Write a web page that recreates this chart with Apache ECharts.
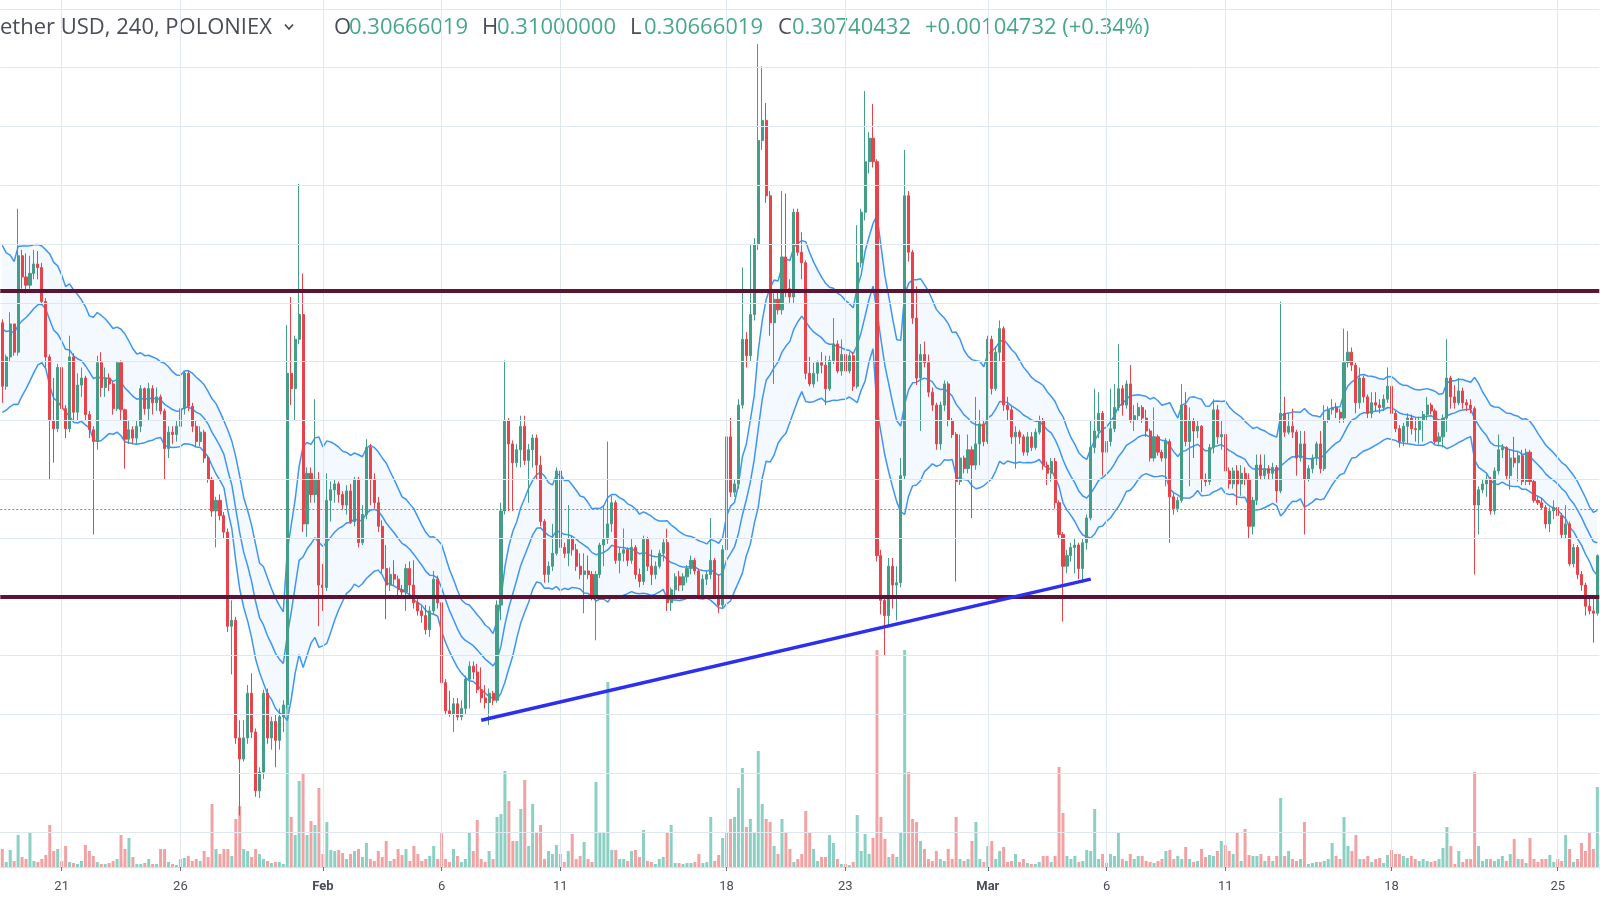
<!DOCTYPE html>
<html>
<head>
<meta charset="utf-8">
<script src="https://cdn.jsdelivr.net/npm/echarts@6/dist/echarts.min.js"></script>
<style>html,body{margin:0;padding:0;background:#fff}#c{width:1600px;height:900px}</style>
</head>
<body>
<div id="c"></div>
<script>
// ---- data (prices in 1/10000 USD), 4h candles starting 2019-01-18 12:00 UTC ----
const firstCandleUTC = [2019, 0, 18, 12];
const candleHours = 4;
const firstOpen = 3233;
const closes = [
3179,3204,3232,3208,3290,3272,3265,3275,3283,3280,3251,3204,3150,3143,3195,3160,3143,3204,3157,3180,3186,3155,3142,3132,3199,3178,3186,3181,3160,3199,3159,3134,3142,3135,
3145,3177,3160,3177,3165,3170,3158,3126,3140,3138,3145,3160,3190,3162,3145,3132,3140,3118,3100,3073,3082,3069,3055,2975,2980,2880,2862,2880,2918,2885,2835,2851,2918,2880,
2894,2878,2898,2908,3190,3177,3219,3240,3062,3105,3087,3100,3010,3008,3082,3091,3096,3087,3078,3090,3064,3100,3046,3070,3127,3100,3080,3060,3024,3010,3019,3015,3006,3004,
3024,3010,2995,2988,2984,2972,2988,3015,2995,2927,2903,2900,2909,2898,2905,2930,2941,2936,2921,2914,2910,2918,2912,2993,3073,3150,3130,3114,3125,3145,3116,3125,3135,3112,
3064,3019,3026,3037,3107,3042,3037,3049,3040,3026,3019,3022,3019,3000,3019,3044,3049,3062,3080,3031,3037,3040,3031,3042,3019,3013,3049,3026,3019,3026,3037,3046,2995,
3006,3017,3010,3017,3024,3031,3022,3001,3015,3019,3031,3001,2993,3040,3136,3089,3096,3163,3219,3205,3240,3300,3388,3405,3341,3233,3253,3244,3289,3262,3255,3327,3293,3284,
3190,3181,3190,3199,3197,3177,3201,3215,3192,3206,3192,3205,3179,3284,3327,3370,3390,3370,3035,2997,2984,3026,3010,3012,3103,3341,3293,3237,3186,3206,3199,3174,3163,3130,
3163,3181,3150,3138,3098,3118,3109,3125,3112,3130,3147,3132,3219,3177,3208,3228,3163,3159,3136,3140,3136,3123,3136,3127,3140,3150,3112,3105,3115,3080,3053,3026,3035,3042,
3044,3024,3046,3067,3127,3141,3156,3123,3132,3143,3161,3177,3163,3181,3150,3154,3161,3152,3141,3118,3136,3123,3118,3132,3085,3075,3082,3163,3132,3150,3141,3145,3100,3098,
3127,3159,3136,3138,3107,3096,3107,3096,3105,3100,3060,3082,3112,3103,3109,3105,3110,3090,3156,3140,3145,3140,3118,3130,3100,3109,3118,3130,3109,3150,3159,3161,3157,3152,
3199,3208,3197,3165,3186,3170,3156,3165,3163,3161,3168,3179,3156,3143,3132,3145,3152,3143,3142,3150,3155,3163,3158,3132,3136,3152,3186,3170,3165,3175,3165,3163,3160,
3078,3091,3096,3100,3073,3107,3125,3127,3103,3118,3114,3120,3098,3123,3098,3082,3080,3076,3062,3073,3076,3069,3053,3062,3028,3042,3019,3010,2992,2988,2986,3035
];
const highs = [
3236,3206,3242,3232,3330,3295,3292,3290,3295,3294,3284,3254,3206,3186,3198,3197,3163,3222,3207,3190,3195,3188,3158,3145,3205,3208,3195,3190,3183,3200,3201,3160,3150,3145,
3150,3180,3178,3182,3180,3178,3172,3160,3145,3145,3150,3165,3192,3192,3165,3150,3145,3142,3120,3102,3085,3087,3072,3058,2997,2983,2895,2895,2925,2935,2888,2855,2921,2922,
2898,2900,2905,2912,3231,3255,3222,3351,3275,3110,3110,3168,3106,3028,3105,3098,3100,3098,3090,3095,3096,3102,3102,3078,3134,3130,3105,3085,3065,3044,3025,3031,3018,3010,
3028,3030,3031,2998,2992,2993,2992,3022,3018,2998,2930,2920,2914,2914,2912,2933,2945,2945,2943,2940,2925,2922,2920,2997,3080,3201,3152,3133,3130,3154,3154,3130,3138,3138,
3120,3066,3030,3062,3110,3109,3046,3078,3052,3045,3037,3037,3035,3022,3022,3046,3078,3132,3086,3082,3042,3058,3042,3050,3044,3024,3052,3051,3040,3030,3040,3049,3058,
3008,3020,3022,3020,3027,3035,3033,3024,3019,3022,3067,3033,3019,3044,3138,3152,3100,3168,3280,3225,3300,3305,3470,3451,3420,3345,3258,3260,3345,3343,3270,3330,3330,3310,
3286,3204,3199,3201,3208,3205,3205,3237,3218,3219,3210,3208,3208,3316,3330,3430,3395,3419,3372,3040,3000,3033,3033,3026,3118,3380,3345,3295,3264,3215,3217,3206,3178,3165,
3166,3184,3183,3152,3140,3138,3120,3138,3128,3170,3159,3150,3222,3222,3213,3235,3230,3170,3162,3145,3142,3138,3140,3140,3143,3154,3152,3115,3118,3118,3082,3055,3040,3046,
3050,3046,3050,3070,3150,3177,3174,3158,3135,3177,3181,3215,3180,3184,3197,3163,3165,3163,3159,3143,3161,3138,3125,3135,3134,3088,3085,3181,3174,3161,3152,3150,3146,3105,
3130,3168,3163,3150,3145,3110,3110,3112,3112,3110,3105,3085,3121,3121,3121,3112,3114,3112,3251,3170,3156,3160,3142,3141,3141,3112,3121,3132,3141,3163,3162,3168,3165,3160,
3228,3226,3212,3199,3195,3188,3172,3174,3174,3168,3172,3195,3182,3158,3146,3148,3156,3155,3152,3153,3158,3170,3165,3160,3140,3155,3219,3188,3180,3186,3178,3168,3168,
3162,3094,3100,3104,3102,3110,3138,3130,3128,3125,3136,3123,3125,3126,3125,3100,3085,3084,3078,3076,3082,3078,3071,3078,3064,3045,3044,3022,3012,3001,3000,3036
];
const lows = [
3165,3176,3200,3205,3205,3262,3258,3262,3270,3270,3248,3195,3100,3114,3140,3155,3135,3140,3150,3150,3170,3150,3135,3053,3125,3170,3170,3175,3155,3158,3150,3109,3130,3130,
3130,3140,3155,3150,3155,3158,3155,3100,3118,3130,3132,3140,3155,3158,3140,3128,3128,3114,3097,3068,3042,3065,3050,2970,2934,2875,2814,2860,2875,2880,2830,2829,2845,2875,
2870,2855,2870,2885,2905,3163,3150,3215,3055,3051,3080,3080,2975,2988,3005,3064,3080,3080,3074,3070,3062,3060,3042,3044,3066,3078,3075,3055,3020,2981,3005,3010,3000,2998,
2988,3000,2990,2984,2978,2968,2966,2985,2990,2920,2900,2898,2885,2895,2895,2900,2905,2930,2918,2910,2905,2891,2908,2910,2980,3070,3073,3073,3110,3110,3112,3080,3110,3100,
3060,3012,3012,3022,3035,3040,3033,3026,3035,3022,3015,2986,3015,2997,2963,3016,3026,3045,3055,3028,3020,3030,3026,3028,3015,3008,3010,3022,3010,3015,3024,3030,2988,
2988,3000,3005,3005,3012,3019,3019,2998,2998,3010,3015,2998,2986,2990,3035,3085,3085,3092,3160,3195,3200,3235,3295,3380,3335,3222,3181,3240,3240,3255,3250,3250,3290,3270,
3185,3179,3178,3183,3190,3163,3175,3198,3190,3188,3186,3190,3175,3177,3280,3320,3360,3365,3030,2985,2950,2975,2990,2980,3008,3100,3285,3232,3180,3141,3195,3170,3158,3125,
3125,3158,3145,3135,3013,3095,3105,3105,3067,3108,3112,3128,3130,3172,3175,3200,3158,3150,3130,3109,3130,3120,3120,3124,3125,3138,3108,3095,3098,3075,3050,2979,3020,3030,
3020,3015,3012,3040,3065,3122,3135,3103,3105,3128,3140,3158,3154,3160,3148,3141,3150,3148,3136,3115,3115,3120,3115,3094,3046,3070,3072,3080,3128,3094,3118,3135,3089,3094,
3095,3122,3130,3125,3082,3092,3092,3078,3086,3095,3049,3053,3078,3100,3100,3100,3100,3080,3088,3136,3138,3135,3103,3115,3053,3098,3105,3112,3105,3107,3148,3155,3152,3148,
3148,3195,3192,3156,3160,3165,3152,3152,3158,3156,3158,3165,3152,3140,3127,3128,3130,3138,3132,3130,3132,3150,3155,3130,3128,3127,3140,3160,3160,3163,3160,3158,3156,
3019,3053,3088,3085,3070,3070,3104,3118,3100,3091,3110,3098,3095,3095,3095,3080,3078,3074,3058,3055,3066,3066,3050,3050,3026,3025,3015,3005,2984,2985,2961,2984
];
const volumes = [
18,5,17,6,32,10,8,34,6,5,8,12,42,16,18,6,21,5,4,3,6,22,16,11,5,3,3,4,6,8,32,18,29,10,
3,3,4,8,3,3,18,18,5,3,2,8,9,11,6,8,6,16,10,63,18,13,18,18,11,48,61,18,16,10,18,13,8,6,
4,5,5,3,161,50,32,86,93,32,46,42,79,13,45,17,16,17,14,8,13,16,18,10,24,8,6,16,10,26,6,8,18,12,
18,6,21,13,6,8,11,21,8,34,8,5,18,11,5,8,34,16,47,8,5,16,8,50,53,96,66,26,26,58,87,21,63,34,
42,8,16,13,22,13,5,16,33,8,11,25,8,5,85,34,34,185,17,17,8,8,6,16,17,10,37,6,5,3,8,10,34,
42,4,4,3,4,4,5,13,4,5,50,6,12,29,34,48,50,79,99,40,48,34,116,63,48,45,21,13,48,34,18,5,8,13,
56,34,18,6,10,10,32,24,8,3,3,2,5,52,16,33,13,29,217,50,28,10,13,10,34,217,95,48,45,26,18,8,6,16,
8,6,18,8,50,8,6,8,26,45,8,5,21,26,8,16,20,5,6,13,5,8,4,3,3,5,11,11,5,11,100,54,11,8,
11,5,6,17,16,58,8,13,4,13,11,34,8,6,13,8,11,11,6,5,4,6,8,16,17,8,11,8,20,8,5,6,18,10,
12,11,16,26,22,16,13,34,6,38,12,11,11,13,6,11,6,11,69,11,16,8,6,8,45,3,4,5,5,6,8,24,11,8,
50,21,16,32,8,8,11,5,8,9,4,12,17,13,13,11,9,11,8,6,8,6,5,6,8,19,40,21,3,16,5,8,8,
95,21,6,8,8,6,8,11,6,13,28,8,8,4,29,8,5,8,8,12,5,8,6,32,18,5,8,24,16,34,18,80
];
const tickDates = ['2019-01-21','2019-01-26','2019-02-01','2019-02-06','2019-02-11','2019-02-18','2019-02-23','2019-03-01','2019-03-06','2019-03-11','2019-03-18','2019-03-25'];
const tickLabels = ['21','26','Feb','6','11','18','23','Mar','6','11','18','25'];
const priceGridLevels = [0.280,0.285,0.290,0.295,0.300,0.305,0.310,0.315,0.320,0.325,0.330,0.335,0.340,0.345,0.350];
const resistanceLevel = 0.326;
const supportLevel = 0.300;
const lastPrice = 0.30740432;
const trendLineTimes = ['2019-02-07 16:00', '2019-03-05 08:00'];
const trendLinePrices = [0.2895, 0.3015];
const headerSymbol = 'ether USD, 240, POLONIEX';
const headerOHLC = [['O','0.30666019'],['H','0.31000000'],['L','0.30666019'],['C','0.30740432']];
const headerChange = '+0.00104732 (+0.34%)';
// Keltner Channels (TradingView defaults): EMA 20, ATR 10, multiplier 1
const kcLength = 20, kcAtrLength = 10, kcMult = 1;

// ---- build ----
const PRICE_UNIT = 10000;
function pad(n){return n<10?'0'+n:''+n;}
const t0 = Date.UTC.apply(null, firstCandleUTC);
const categories = closes.map((_, i) => {
  const d = new Date(t0 + i * candleHours * 3600000);
  return d.getUTCFullYear()+'-'+pad(d.getUTCMonth()+1)+'-'+pad(d.getUTCDate())+' '+pad(d.getUTCHours())+':00';
});
const candleData = closes.map((c, i) => {
  const o = i === 0 ? firstOpen : closes[i-1];
  const h = Math.max(highs[i], o, c), l = Math.min(lows[i], o, c);
  return [o/PRICE_UNIT, c/PRICE_UNIT, l/PRICE_UNIT, h/PRICE_UNIT];
});
const volData = volumes.map((v, i) => ({
  value: v,
  itemStyle: { color: candleData[i][1] >= candleData[i][0] ? '#8ccfc3' : '#f1a3a4' }
}));
const kcUp = [], kcMid = [], kcLo = [], kcWidth = [];
{
  const a = 2 / (kcLength + 1);
  let ema = firstOpen / PRICE_UNIT, atr = null, prevC = firstOpen / PRICE_UNIT;
  for (let i = 0; i < candleData.length; i++) {
    const [o, c, l, h] = candleData[i];
    const tr = Math.max(h - l, Math.abs(h - prevC), Math.abs(l - prevC));
    atr = atr === null ? tr : (atr * (kcAtrLength - 1) + tr) / kcAtrLength;
    ema = a * c + (1 - a) * ema;
    kcMid.push(ema); kcUp.push(ema + kcMult * atr); kcLo.push(ema - kcMult * atr); kcWidth.push(2 * kcMult * atr);
    prevC = c;
  }
}
const tickCats = tickDates.map(d => d + ' 00:00');
const tickSet = new Set(tickCats);
const tickLabelMap = {};
tickCats.forEach((c, i) => tickLabelMap[c] = tickLabels[i]);

const GL = 0.3, GR = 0.7;
const chart = echarts.init(document.getElementById('c'), null, {renderer: 'canvas'});
const valueFont = '22px "Open Sans"';
const HY = 27.5;
const graphics = [
  {type:'text', x:0, y:HY, style:{text:headerSymbol, font:valueFont, fill:'#4a4d57', verticalAlign:'middle', textVerticalAlign:'middle'}},
  {type:'polyline', shape:{points:[[285,24.5],[289,29],[293,24.5]]}, style:{stroke:'#4a4d57', lineWidth:1.8, fill:null}}
];
const ohlcX = [[334,349],[482,497],[630,644],[778,792]];
headerOHLC.forEach((p, i) => {
  graphics.push({type:'text', x:ohlcX[i][0], y:HY, style:{text:p[0], font:valueFont, fill:'#4a4d57', verticalAlign:'middle', textVerticalAlign:'middle'}});
  graphics.push({type:'text', x:ohlcX[i][1], y:HY, style:{text:p[1], font:valueFont, fill:'#47a889', verticalAlign:'middle', textVerticalAlign:'middle'}});
});
graphics.push({type:'text', x:925, y:HY, style:{text:headerChange, font:valueFont, fill:'#47a889', verticalAlign:'middle', textVerticalAlign:'middle'}});

const option = {
  animation: false,
  backgroundColor: '#ffffff',
  graphic: graphics,
  grid: [
    {left: GL, right: GR, top: 0, height: 867},
    {left: GL, right: GR, top: 627, height: 240}
  ],
  xAxis: [
    {type:'category', gridIndex:0, data:categories, show:false},
    {type:'category', gridIndex:1, data:categories,
      axisLine:{show:true, lineStyle:{color:'#d9dde3'}},
      axisTick:{show:true, alignWithLabel:true, interval:(i, v)=>tickSet.has(v), length:4, lineStyle:{color:'#6b6f78'}},
      axisLabel:{interval:(i, v)=>tickSet.has(v), margin:13,
        formatter:(v)=>{const t=tickLabelMap[v]||''; return /[A-Za-z]/.test(t)?'{b|'+t+'}':'{n|'+t+'}';},
        rich:{b:{fontFamily:'Roboto', fontSize:13, fontWeight:'bold', color:'#4a4d57'}, n:{fontFamily:'Roboto', fontSize:13, color:'#4a4d57'}}},
      splitLine:{show:false}}
  ],
  yAxis: [
    {type:'value', gridIndex:0, min:0.277024, max:0.350748, show:false, splitLine:{show:false}},
    {type:'value', gridIndex:1, min:0, max:240, show:false, splitLine:{show:false}}
  ],
  series: [
    {name:'grid', type:'line', xAxisIndex:0, yAxisIndex:0, data:categories.map(()=>null), z:0, silent:true,
      markLine:{silent:true, symbol:'none', precision:8, label:{show:false}, animation:false,
        lineStyle:{color:'#dfe8f0', width:1, type:'solid'},
        data: priceGridLevels.map(p=>({yAxis:p})).concat(tickCats.map(c=>({xAxis:c})))}},
    {name:'Volume', type:'bar', xAxisIndex:1, yAxisIndex:1, data:volData, barWidth:3, z:1, silent:true},
    {name:'kcBase', type:'line', stack:'kc', data:kcLo, symbol:'none', lineStyle:{opacity:0}, z:2, silent:true},
    {name:'kcFill', type:'line', stack:'kc', data:kcWidth, symbol:'none', lineStyle:{opacity:0}, areaStyle:{color:'rgba(33,150,243,0.08)'}, z:2, silent:true},
    {name:'KC upper', type:'line', data:kcUp, symbol:'none', lineStyle:{color:'#3d96f2', width:1.5}, z:3, silent:true},
    {name:'KC basis', type:'line', data:kcMid, symbol:'none', lineStyle:{color:'#3d96f2', width:1.5}, z:3, silent:true},
    {name:'KC lower', type:'line', data:kcLo, symbol:'none', lineStyle:{color:'#3d96f2', width:1.5}, z:3, silent:true},
    {name:'XRPUSDT', type:'candlestick', data:candleData, barWidth:2.6, z:4,
      itemStyle:{color:'#449d87', color0:'#e8434a', borderColor:'#449d87', borderColor0:'#e8434a', borderWidth:1},
      markLine:{silent:true, symbol:'none', precision:8, label:{show:false}, animation:false,
        data:[
          {yAxis:lastPrice, lineStyle:{color:'#47a889', width:1, type:[2,2]}},
          {yAxis:resistanceLevel, lineStyle:{color:'#5b1435', width:4, type:'solid'}},
          {yAxis:supportLevel, lineStyle:{color:'#5b1435', width:4, type:'solid'}}
        ]}},
    {name:'trend', type:'line', data:trendLineTimes.map((t,i)=>[t, trendLinePrices[i]]), symbol:'none',
      lineStyle:{color:'#2c2ef0', width:3.5}, z:6, silent:true}
  ]
};
chart.setOption(option);
</script>
</body>
</html>
